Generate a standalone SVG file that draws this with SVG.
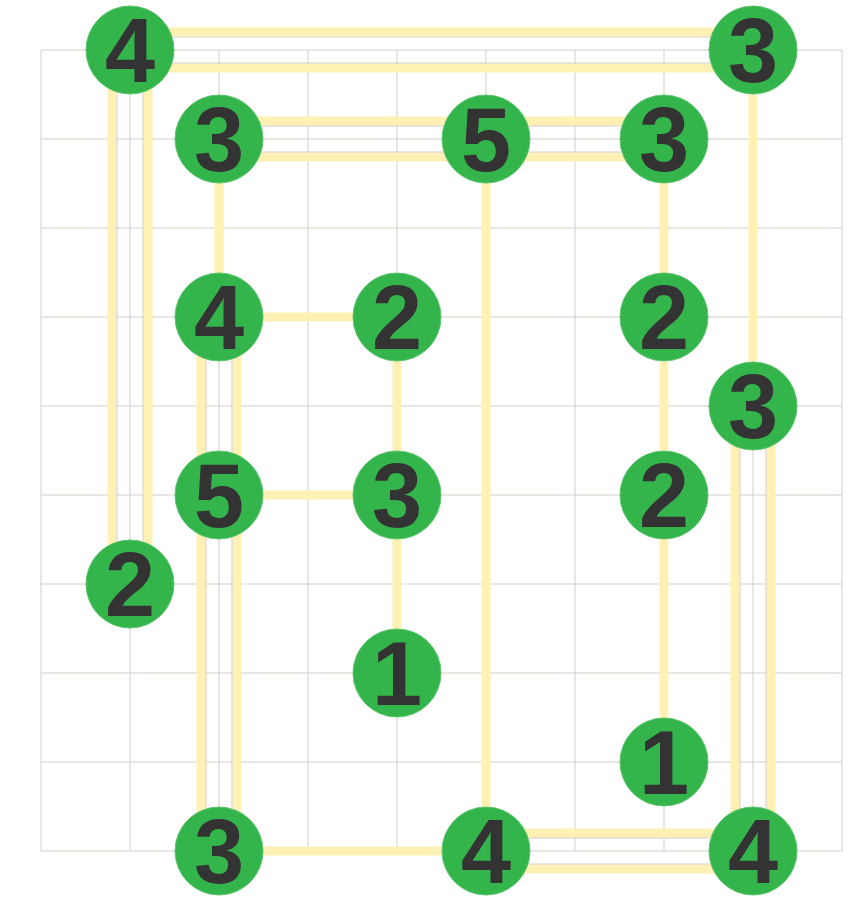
<svg xmlns="http://www.w3.org/2000/svg" width="866" height="905" viewBox="0 0 866 905">
<style>
.grid line{stroke:#d5cdc5;stroke-width:1}
.br{stroke:#fff0b3;stroke-width:9;fill:none}
.sep{stroke:#d5cdc5;stroke-width:1;fill:none}
.node circle{fill:#33b54b;stroke:#5cc46e;stroke-width:1}
.node text{font-family:"Liberation Sans",Arial,sans-serif;font-weight:bold;font-size:90px;fill:#333333;text-anchor:middle}
</style>
<rect width="866" height="905" fill="#ffffff"/>
<g class="grid">
<line x1="41" y1="50" x2="41" y2="851"/><line x1="130" y1="50" x2="130" y2="851"/><line x1="219" y1="50" x2="219" y2="851"/><line x1="308" y1="50" x2="308" y2="851"/><line x1="397" y1="50" x2="397" y2="851"/><line x1="486" y1="50" x2="486" y2="851"/><line x1="575" y1="50" x2="575" y2="851"/><line x1="664" y1="50" x2="664" y2="851"/><line x1="753" y1="50" x2="753" y2="851"/><line x1="842" y1="50" x2="842" y2="851"/>
<line x1="41" y1="50" x2="842" y2="50"/><line x1="41" y1="139" x2="842" y2="139"/><line x1="41" y1="228" x2="842" y2="228"/><line x1="41" y1="317" x2="842" y2="317"/><line x1="41" y1="406" x2="842" y2="406"/><line x1="41" y1="495" x2="842" y2="495"/><line x1="41" y1="584" x2="842" y2="584"/><line x1="41" y1="673" x2="842" y2="673"/><line x1="41" y1="762" x2="842" y2="762"/><line x1="41" y1="851" x2="842" y2="851"/>
</g>
<g id="connectors">
<!-- doubles -->
<path class="br" d="M130,32H753M130,68H753"/>
<path class="sep" d="M130,37H753M130,63H753"/>
<path class="br" d="M112,50V584M148,50V584"/>
<path class="sep" d="M117,50V584M143,50V584"/>
<path class="br" d="M219,121H486M219,157H486"/>
<path class="sep" d="M219,126H486M219,152H486"/>
<path class="br" d="M486,121H664M486,157H664"/>
<path class="sep" d="M486,126H664M486,152H664"/>
<path class="br" d="M201,317V495M237,317V495"/>
<path class="sep" d="M206,317V495M232,317V495"/>
<path class="br" d="M201,495V851M237,495V851"/>
<path class="sep" d="M206,495V851M232,495V851"/>
<path class="br" d="M735,406V851M771,406V851"/>
<path class="sep" d="M740,406V851M766,406V851"/>
<path class="br" d="M486,833H753M486,869H753"/>
<path class="sep" d="M486,838H753M486,864H753"/>
<!-- singles -->
<path class="br" d="M753,50V406M219,139V317M486,139V851M664,139V317M219,317H397M397,317V495M664,317V495M219,495H397M397,495V673M664,495V762M219,851H486"/>
</g>
<g id="n1" class="node"><circle cx="130" cy="50" r="44"/><text x="130" y="82">4</text></g>
<g id="n2" class="node"><circle cx="753" cy="50" r="44"/><text x="753" y="82">3</text></g>
<g id="n3" class="node"><circle cx="219" cy="139" r="44"/><text x="219" y="171">3</text></g>
<g id="n4" class="node"><circle cx="486" cy="139" r="44"/><text x="486" y="171">5</text></g>
<g id="n5" class="node"><circle cx="664" cy="139" r="44"/><text x="664" y="171">3</text></g>
<g id="n6" class="node"><circle cx="219" cy="317" r="44"/><text x="219" y="349">4</text></g>
<g id="n7" class="node"><circle cx="397" cy="317" r="44"/><text x="397" y="349">2</text></g>
<g id="n8" class="node"><circle cx="664" cy="317" r="44"/><text x="664" y="349">2</text></g>
<g id="n9" class="node"><circle cx="753" cy="406" r="44"/><text x="753" y="438">3</text></g>
<g id="n10" class="node"><circle cx="219" cy="495" r="44"/><text x="219" y="527">5</text></g>
<g id="n11" class="node"><circle cx="397" cy="495" r="44"/><text x="397" y="527">3</text></g>
<g id="n12" class="node"><circle cx="664" cy="495" r="44"/><text x="664" y="527">2</text></g>
<g id="n13" class="node"><circle cx="130" cy="584" r="44"/><text x="130" y="616">2</text></g>
<g id="n14" class="node"><circle cx="397" cy="673" r="44"/><text x="397" y="705">1</text></g>
<g id="n15" class="node"><circle cx="664" cy="762" r="44"/><text x="664" y="794">1</text></g>
<g id="n16" class="node"><circle cx="219" cy="851" r="44"/><text x="219" y="883">3</text></g>
<g id="n17" class="node"><circle cx="486" cy="851" r="44"/><text x="486" y="883">4</text></g>
<g id="n18" class="node"><circle cx="753" cy="851" r="44"/><text x="753" y="883">4</text></g>
</svg>
